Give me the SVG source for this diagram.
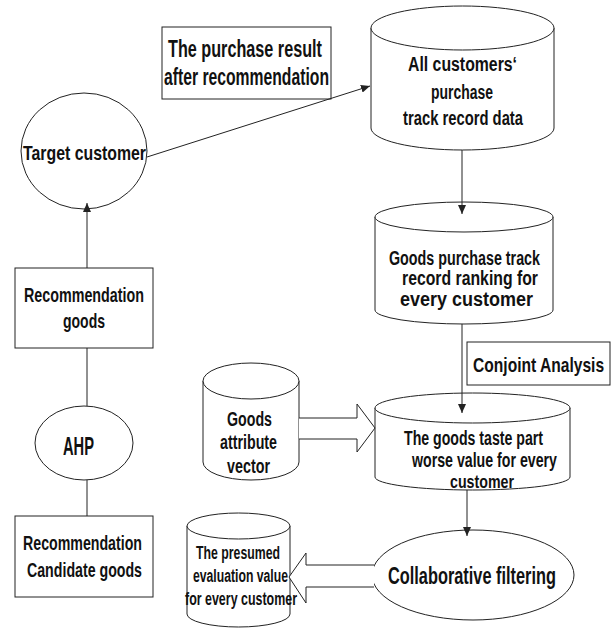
<svg xmlns="http://www.w3.org/2000/svg" width="615" height="628" viewBox="0 0 615 628">
<style>
.shape{fill:#fff;stroke:#222;stroke-width:1}
.line{fill:none;stroke:#222;stroke-width:1}
.block{fill:#fff;stroke:#222;stroke-width:1}
text{font-family:"Liberation Sans",Arial,sans-serif;font-weight:bold;fill:#111;font-size:21px}
.s18{font-size:18px}
.s19{font-size:19px}
.s20{font-size:20px}
.s23{font-size:23px}
.s26{font-size:26px}
</style>
<defs>
<marker id="arr" markerUnits="userSpaceOnUse" markerWidth="10" markerHeight="8" refX="9" refY="4" orient="auto">
<path d="M0,0 L9,4 L0,8 Z" fill="#222"/>
</marker>
</defs>
<rect width="615" height="628" fill="#fff"/>
<g id="purchase-result">
<rect class="shape" x="162" y="27" width="169" height="72"/>
<text x="168" y="57" class="s23" textLength="154" lengthAdjust="spacingAndGlyphs">The purchase result</text>
<text x="164" y="85" class="s23" textLength="165" lengthAdjust="spacingAndGlyphs">after recommendation</text>
</g>
<g id="target-customer">
<ellipse class="shape" cx="84" cy="151" rx="63" ry="58"/>
<text x="23" y="160" textLength="123" lengthAdjust="spacingAndGlyphs">Target customer</text>
</g>
<g id="all-customers">
<path class="shape" d="M371,28 L371,128 A91.5,22 0 0 0 554,128 L554,28"/>
<ellipse class="shape" cx="462.5" cy="28" rx="91.5" ry="22"/>
<text x="408" y="71" class="s20" textLength="109" lengthAdjust="spacingAndGlyphs">All customers‘</text>
<text x="431" y="99" class="s20" textLength="62" lengthAdjust="spacingAndGlyphs">purchase</text>
<text x="403" y="125" class="s20" textLength="120" lengthAdjust="spacingAndGlyphs">track record data</text>
</g>
<g id="goods-ranking">
<path class="shape" d="M375,217 L375,310 A89,14 0 0 0 553,310 L553,217"/>
<ellipse class="shape" cx="464" cy="217" rx="89" ry="15"/>
<text x="389" y="265" class="s20" textLength="151" lengthAdjust="spacingAndGlyphs">Goods purchase track</text>
<text x="402" y="285" class="s20" textLength="136" lengthAdjust="spacingAndGlyphs">record ranking for</text>
<text x="400" y="306" class="s20" textLength="133" lengthAdjust="spacingAndGlyphs">every customer</text>
</g>
<g id="conjoint">
<rect class="shape" x="467" y="342" width="143" height="43"/>
<text transform="translate(473,372) scale(0.78,1)" class="s20">Conjoint Analysis</text>
</g>
<g id="taste-value">
<path class="shape" d="M375,408 L375,477 A97.5,13 0 0 0 570,477 L570,408"/>
<ellipse class="shape" cx="472.5" cy="408" rx="97.5" ry="15"/>
<text x="404" y="445" class="s20" textLength="139" lengthAdjust="spacingAndGlyphs">The goods taste part</text>
<text transform="translate(412,467) scale(0.709,1)" class="s20">worse value for every</text>
<text x="450" y="488" class="s19" textLength="64" lengthAdjust="spacingAndGlyphs">customer</text>
</g>
<g id="collaborative-filtering">
<ellipse class="shape" cx="473" cy="575" rx="101" ry="45"/>
<text transform="translate(388,584) scale(0.711,1)" class="s23">Collaborative filtering</text>
</g>
<g id="goods-attribute">
<path class="shape" d="M203,381 L203,462 A48,18 0 0 0 299,462 L299,381"/>
<ellipse class="shape" cx="251" cy="381" rx="48" ry="18"/>
<text x="227" y="426" class="s20" textLength="45" lengthAdjust="spacingAndGlyphs">Goods</text>
<text x="220" y="449" class="s20" textLength="57" lengthAdjust="spacingAndGlyphs">attribute</text>
<text x="227" y="473" class="s20" textLength="43" lengthAdjust="spacingAndGlyphs">vector</text>
</g>
<g id="presumed-value">
<path class="shape" d="M187,526 L187,614 A51.5,13 0 0 0 290,614 L290,526"/>
<ellipse class="shape" cx="238.5" cy="526" rx="51.5" ry="13"/>
<text x="196" y="559" class="s18" textLength="84" lengthAdjust="spacingAndGlyphs">The presumed</text>
<text x="193" y="582" class="s18" textLength="95" lengthAdjust="spacingAndGlyphs">evaluation value</text>
<text x="185" y="605" class="s18" textLength="112" lengthAdjust="spacingAndGlyphs">for every customer</text>
</g>
<g id="recommendation-goods">
<rect class="shape" x="15" y="268" width="138" height="80"/>
<text x="24" y="302" textLength="120" lengthAdjust="spacingAndGlyphs">Recommendation</text>
<text x="63" y="328" textLength="42" lengthAdjust="spacingAndGlyphs">goods</text>
</g>
<g id="ahp">
<ellipse class="shape" cx="84" cy="443" rx="49" ry="37"/>
<text x="63" y="455" class="s26" textLength="31" lengthAdjust="spacingAndGlyphs">AHP</text>
</g>
<g id="candidate-goods">
<rect class="shape" x="15" y="516" width="138" height="81"/>
<text x="23" y="550" textLength="119" lengthAdjust="spacingAndGlyphs">Recommendation</text>
<text x="27" y="577" textLength="115" lengthAdjust="spacingAndGlyphs">Candidate goods</text>
</g>
<g id="connectors">
<line class="line" x1="147" y1="157" x2="370" y2="86" marker-end="url(#arr)"/>
<line class="line" x1="462" y1="150" x2="462" y2="214" marker-end="url(#arr)"/>
<line class="line" x1="462" y1="324" x2="462" y2="413" marker-end="url(#arr)"/>
<line class="line" x1="467" y1="490" x2="467" y2="536" marker-end="url(#arr)"/>
<line class="line" x1="87" y1="268" x2="87" y2="203" marker-end="url(#arr)"/>
<line class="line" x1="87" y1="348" x2="87" y2="406"/>
<line class="line" x1="87" y1="480" x2="87" y2="516"/>
<polyline class="block" points="299,418 357,418 357,404 375,428 357,452 357,439 299,439"/>
<polyline class="block" points="374,565 306,565 306,553 289,577 306,603 306,587 374,587"/>
</g>
</svg>
